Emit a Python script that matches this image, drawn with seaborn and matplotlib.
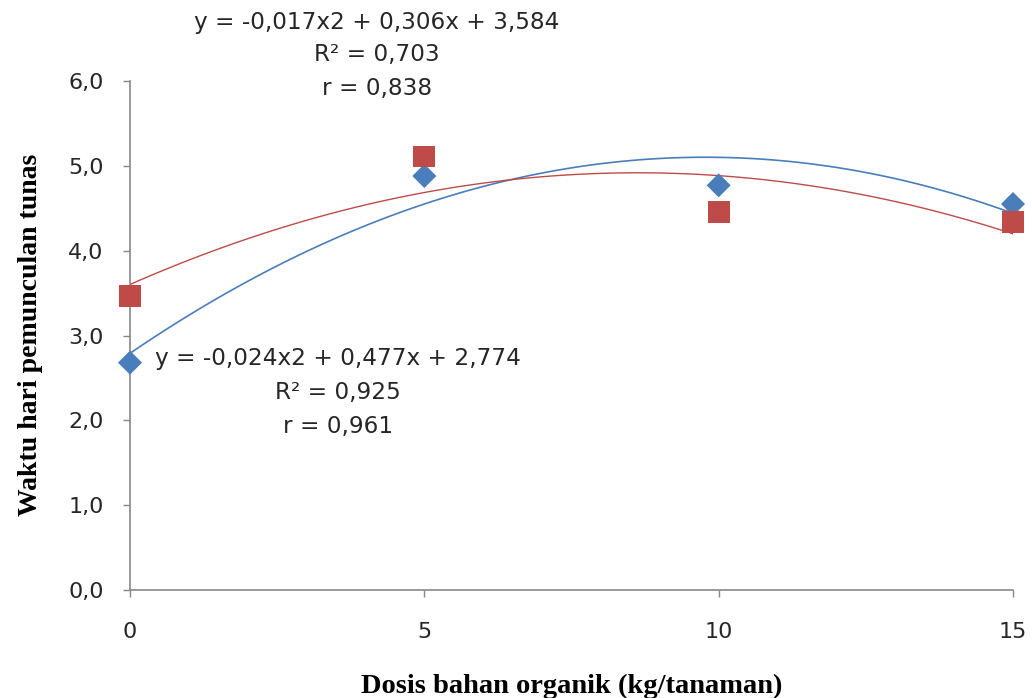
import matplotlib
matplotlib.use("Agg")
import matplotlib.pyplot as plt
import seaborn as sns
import pandas as pd
from matplotlib.ticker import FuncFormatter

sns.set_theme(style="white")
plt.rcParams['font.family'] = ['DejaVu Sans']

# Data
dosis = [0, 5, 10, 15]
series_blue = [2.68, 4.88, 4.77, 4.55]
series_red = [3.46, 5.11, 4.46, 4.34]
y_ticks = [0, 1, 2, 3, 4, 5, 6]
x_ticks = [0, 5, 10, 15]
eq_red = ["y = -0,017x2 + 0,306x + 3,584", "R² = 0,703", "r = 0,838"]
eq_blue = ["y = -0,024x2 + 0,477x + 2,774", "R² = 0,925", "r = 0,961"]
xlabel = "Dosis bahan organik (kg/tanaman)"
ylabel = "Waktu hari pemunculan tunas"

blue = "#4A7EBB"
red = "#BE4B48"
txt = "#262626"

df = pd.DataFrame({"x": dosis, "blue": series_blue, "red": series_red})

fig = plt.figure(figsize=(10.32, 6.98), dpi=100)
ax = fig.add_axes([130/1032, 1 - 590/698, (1013-130)/1032, (590-81)/698])

# trendlines (2nd-order polynomial fits)
sns.regplot(data=df, x="x", y="blue", order=2, ci=None, scatter=False, ax=ax,
            truncate=True, line_kws=dict(color=blue, lw=1.2))
sns.regplot(data=df, x="x", y="red", order=2, ci=None, scatter=False, ax=ax,
            truncate=True, line_kws=dict(color=red, lw=1.0))
# markers
sns.scatterplot(data=df, x="x", y="blue", marker="D", s=150, color=blue,
                edgecolor="none", ax=ax, zorder=5)
sns.scatterplot(data=df, x="x", y="red", marker="s", s=250, color=red,
                edgecolor="none", ax=ax, zorder=5)
for c in ax.collections:
    c.set_clip_on(False)

ax.set_xlim(0, 15)
ax.set_ylim(0, 6)
ax.set_xticks(x_ticks)
ax.set_yticks(y_ticks)
ax.yaxis.set_major_formatter(FuncFormatter(lambda v, p: f"{v:.1f}".replace(".", ",")))
ax.tick_params(axis="both", which="major", direction="out", length=5, width=1,
               color="#878787", labelsize=16, labelcolor=txt, bottom=True, left=True)
ax.tick_params(axis="x", pad=18)
ax.tick_params(axis="y", pad=14)

for s in ["top", "right"]:
    ax.spines[s].set_visible(False)
for s in ["left", "bottom"]:
    ax.spines[s].set_color("#878787")
    ax.spines[s].set_linewidth(1.2)

ax.set_xlabel(xlabel, fontsize=20.5, fontweight="bold", family="Liberation Serif",
              color="black", va="center")
ax.xaxis.set_label_coords(0.5, (590 - 686) / 509)
ax.set_ylabel(ylabel, fontsize=20, fontweight="bold", family="Liberation Serif",
              color="black", va="center")
ax.yaxis.set_label_coords((31 - 130) / 883, (590 - 335) / 509)

# equation texts
tkw = dict(transform=fig.transFigure, fontsize=16.7, color=txt, ha="center", va="center")
for i, t in enumerate(eq_red):
    fig.text(377/1032, 1 - (22 + 33*i)/698, t, **tkw)
fig.text(155/1032, 1 - 358/698, eq_blue[0], transform=fig.transFigure, fontsize=16.7,
         color=txt, ha="left", va="center")
for i, t in enumerate(eq_blue[1:]):
    fig.text(338/1032, 1 - (393 + 33*i)/698, t, **tkw)

fig.savefig("out.png", dpi=100)
